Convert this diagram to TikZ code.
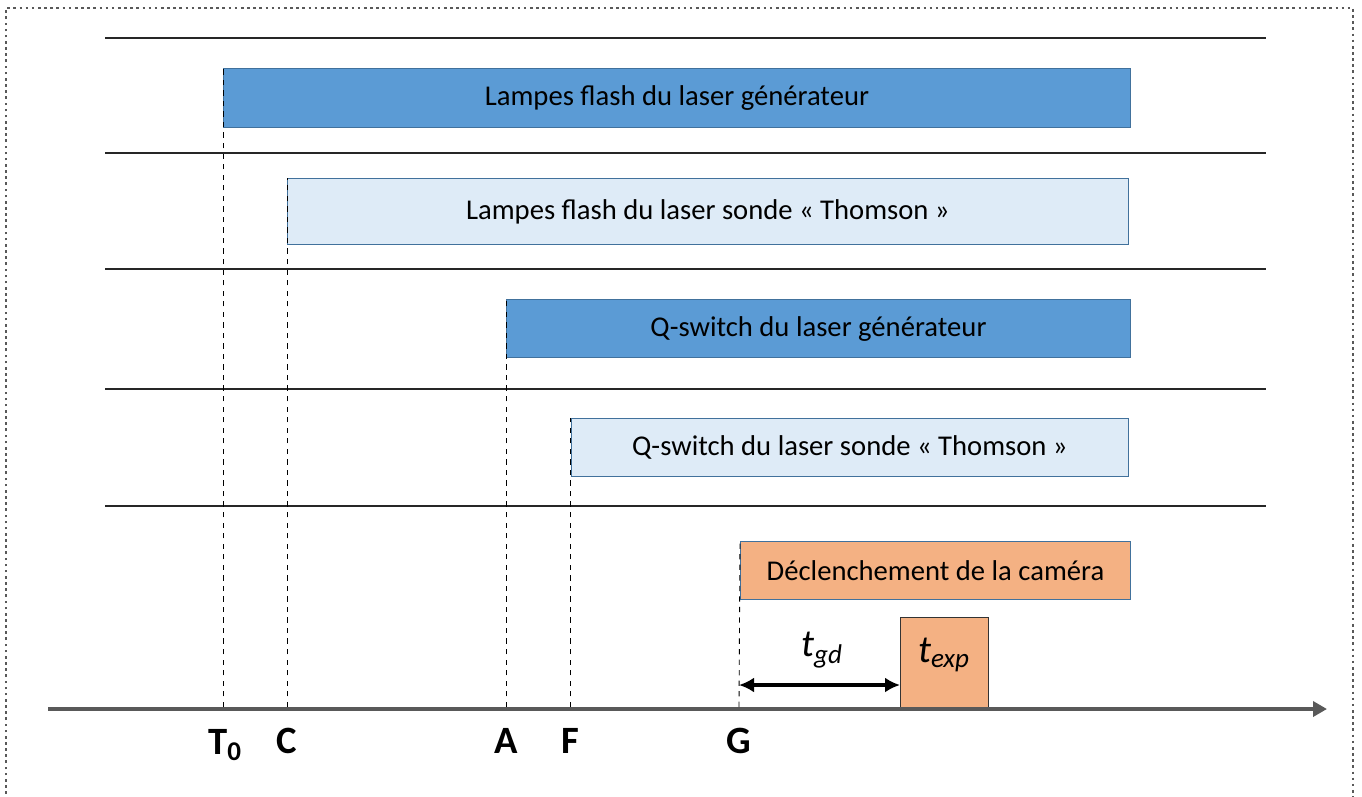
\documentclass[tikz,border=0pt]{standalone}
\usepackage{fontspec}
\setmainfont{Carlito}
\usetikzlibrary{arrows.meta}

\definecolor{darkblue}{HTML}{5B9BD5}
\definecolor{paleblue}{HTML}{DEEBF7}
\definecolor{boxedge}{HTML}{41719C}
\definecolor{camorange}{HTML}{F4B183}
\definecolor{axisgray}{HTML}{595959}

\tikzset{
    phase/.style={draw=boxedge, line width=0.6pt, anchor=north west, inner sep=0pt,
        minimum height=1.16cm, font=\fontsize{16.3}{19}\selectfont},
    dark/.style={phase, fill=darkblue},
    pale/.style={phase, fill=paleblue},
    cam/.style={phase, fill=camorange},
    sep/.style={line width=0.7pt, black!85},
    guide/.style={dashed, line width=0.5pt},
    tick/.style={font=\fontsize{22}{26}\selectfont\bfseries}
}

\begin{document}
\begin{tikzpicture}[x=0.02cm, y=-0.02cm]
    \useasboundingbox (0,0) rectangle (1362,796);

    % dotted frame (bottom edge is out of the picture)
    \draw[dotted, line width=1.5pt, axisgray] (6,800) -- (6,8) -- (1353,8) -- (1353,800);

    % separators between the rows
    \foreach \y in {38,153,269,389,506}
        \draw[sep] (105,\y) -- (1266,\y);

    % the five phases
    \node[dark, minimum width=18.14cm, minimum height=1.18cm] (lampgen) at (223,68)
        {Lampes flash du laser générateur};
    \node[pale, minimum width=16.82cm, minimum height=1.32cm] (lampth) at (287,178)
        {Lampes flash du laser sonde « Thomson »};
    \node[dark, minimum width=12.48cm] (qgen) at (506,299) {Q-switch du laser générateur};
    \node[pale, minimum width=11.14cm] (qth) at (571,418) {Q-switch du laser sonde « Thomson »};
    \node[cam, minimum width=7.8cm] (camera) at (740,541) {Déclenchement de la caméra};

    % exposure box
    \node[draw=black!80, fill=camorange, line width=0.6pt, anchor=north west, inner sep=0pt,
        minimum width=1.76cm, minimum height=1.82cm] (expo) at (900,617) {};
    \node (texp) at (944,655) [font=\fontsize{22}{26}\selectfont\itshape] {t\textsubscript{exp}};

    % time axis
    \coordinate (start) at (48,709);
    \coordinate (stop) at (1327,709);
    \draw[axisgray, line width=2.2pt, -{Triangle[length=0.28cm, width=0.3cm]}] (start) -- (stop);

    % instants on the axis
    \coordinate (T0) at (223,707);
    \coordinate (C) at (287,707);
    \coordinate (A) at (506,707);
    \coordinate (F) at (570,707);
    \coordinate (G) at (739,707);

    \draw[guide] (T0) -- (lampgen.north west);
    \draw[guide] (C) -- (lampth.north west);
    \draw[guide] (A) -- (qgen.north west);
    \draw[guide] (F) -- (F |- qth.north west);
    \draw[guide] (G) -- (camera.north west);

    \node[tick] (labT0) at (225,745) {T\textsubscript{0}};
    \node[tick] (labC) at (287,741) {C};
    \node[tick] (labA) at (506,741) {A};
    \node[tick] (labF) at (570,741) {F};
    \node[tick] (labG) at (739,741) {G};

    % gate delay
    \coordinate (gd) at (739,685);
    \draw[line width=1.9pt, {Latex[length=0.3cm, width=0.3cm]}-{Latex[length=0.3cm, width=0.3cm]}]
        (gd) -- (expo.west |- gd);
    \node (tgd) at (822,650) [font=\fontsize{22}{26}\selectfont\itshape] {t\textsubscript{gd}};

\end{tikzpicture}
\end{document}
